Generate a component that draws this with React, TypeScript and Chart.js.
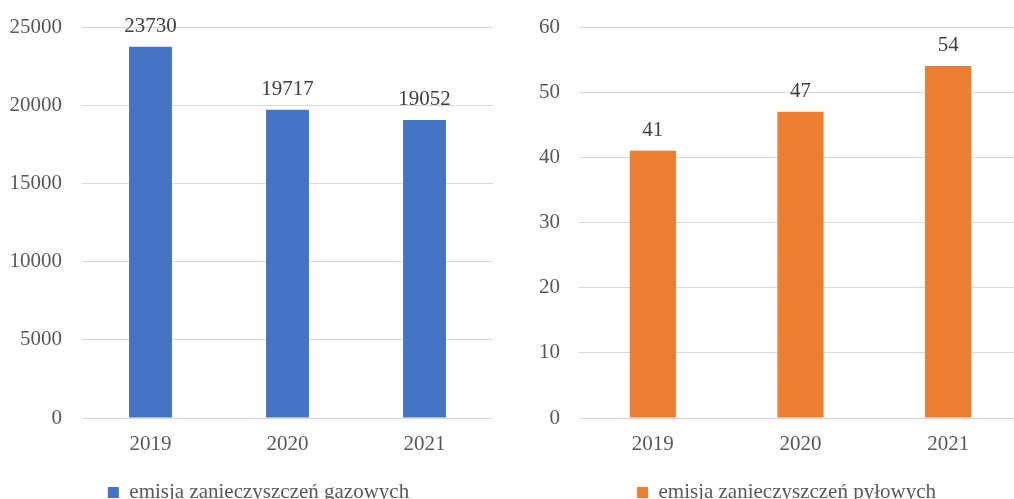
import { useEffect, useRef } from "react";
import { Chart, registerables } from "chart.js";

Chart.register(...registerables);

const years = ["2019", "2020", "2021"];
const gasEmission = [23730, 19717, 19052];
const dustEmission = [41, 47, 54];
const gasLabel = "emisja zanieczyszczeń gazowych";
const dustLabel = "emisja zanieczyszczeń pyłowych";
const gasAxis = [0, 25000, 5000]; // min, max, step
const dustAxis = [0, 60, 10];

const FONT = '"Liberation Serif", "Times New Roman", serif';
const FS = 21;

const valueLabels = {
  id: "valueLabels",
  afterDatasetsDraw(chart: any) {
    const ctx = chart.ctx;
    chart.data.datasets.forEach((ds: any, i: number) => {
      const meta = chart.getDatasetMeta(i);
      meta.data.forEach((bar: any, j: number) => {
        ctx.save();
        ctx.font = `${FS}px ${FONT}`;
        ctx.fillStyle = "#404040";
        ctx.textAlign = "center";
        ctx.textBaseline = "alphabetic";
        ctx.fillText(String(ds.data[j]), bar.x, bar.y - 15);
        ctx.restore();
      });
    });
  },
};

const legendShift = {
  id: "legendShift",
  afterLayout(chart: any) {
    const dx = chart.options.plugins.legendShift?.dx || 0;
    if (chart.legend) {
      chart.legend.left += dx;
      chart.legend.right += dx;
    }
  },
};

type Props = {
  left: number;
  width: number;
  padRight: number;
  padTop: number;
  yWidth: number;
  yPad: number;
  legendDx: number;
  values: number[];
  label: string;
  color: string;
  axis: number[];
};

function BarChart(p: Props) {
  const ref = useRef<HTMLCanvasElement | null>(null);
  useEffect(() => {
    if (!ref.current) return;
    const chart = new Chart(ref.current, {
      type: "bar",
      data: {
        labels: years,
        datasets: [
          {
            label: p.label,
            data: p.values,
            backgroundColor: p.color,
            borderWidth: 0,
            categoryPercentage: 1,
            barPercentage: 0.313,
          },
        ],
      },
      options: {
        animation: false,
        responsive: false,
        devicePixelRatio: 1,
        layout: { padding: { left: 0, right: p.padRight, top: p.padTop, bottom: 0 } },
        font: { family: FONT, size: FS },
        plugins: {
          tooltip: { enabled: false },
          legendShift: { dx: p.legendDx },
          legend: {
            position: "bottom",
            labels: {
              color: "#595959",
              boxWidth: 11,
              boxHeight: 11,
              padding: 10,
              font: { family: FONT, size: FS },
            },
          },
        },
        scales: {
          x: {
            grid: { display: false, drawTicks: false },
            border: { display: false },
            ticks: {
              color: "#595959",
              padding: 14,
              font: { family: FONT, size: FS },
            },
            afterFit: (s: any) => {
              s.height = 54;
            },
          },
          y: {
            min: p.axis[0],
            max: p.axis[1],
            grid: { color: "#d9d9d9", lineWidth: 1, drawTicks: false },
            border: { display: false },
            ticks: {
              stepSize: p.axis[2],
              color: "#595959",
              padding: p.yPad,
              font: { family: FONT, size: FS },
              callback: (v: any) => String(v),
            },
            afterFit: (s: any) => {
              s.width = p.yWidth;
              s.paddingTop = 0;
              s.paddingBottom = 0;
            },
          },
        },
      },
      plugins: [valueLabels, legendShift],
    } as any);
    return () => chart.destroy();
  }, []);
  return (
    <canvas
      ref={ref}
      width={p.width}
      height={513}
      style={{
        position: "absolute",
        left: p.left,
        top: 0,
        width: p.width,
        height: 513,
        display: "block",
      }}
    />
  );
}

export default function App() {
  return (
    <div
      style={{
        position: "fixed",
        left: 0,
        top: 0,
        width: 1014,
        height: 499,
        overflow: "hidden",
        background: "#ffffff",
      }}
    >
      <BarChart
        left={0}
        width={507}
        padRight={14}
        padTop={27}
        yWidth={82}
        yPad={20}
        legendDx={12}
        values={gasEmission}
        label={gasLabel}
        color="#4472C4"
        axis={gasAxis}
      />
      <BarChart
        left={507}
        width={515}
        padRight={0}
        padTop={27}
        yWidth={72}
        yPad={19}
        legendDx={22}
        values={dustEmission}
        label={dustLabel}
        color="#ED7D31"
        axis={dustAxis}
      />
    </div>
  );
}
